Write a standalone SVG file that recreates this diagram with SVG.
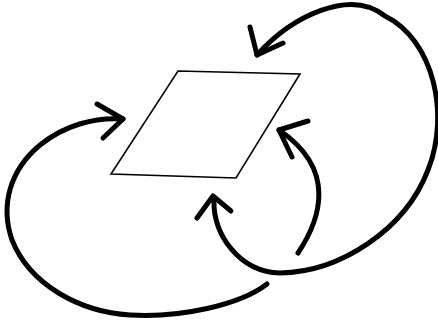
<svg xmlns="http://www.w3.org/2000/svg" width="438" height="324" viewBox="0 0 438 324">
<style>
.arr{fill:none;stroke:#000;stroke-width:5;stroke-linecap:round;stroke-linejoin:round}
.shape{fill:#fff;stroke:#000;stroke-width:1.6;stroke-linejoin:miter}
</style>
<rect width="438" height="324" fill="#fff"/>
<g id="plane">
<polygon class="shape" points="178,71 300,74 236,178 111,174"/>
</g>
<g id="connectors">
<path class="arr" d="M267,284 C240,305 180,318 130,315 C80,312 30,285 12,240 C0,205 10,170 40,145 C65,125 95,117 123,119"/>
<path class="arr" d="M97,104 L123,119 L103,138"/>
<path class="arr" d="M214,197 C212,235 240,272 280,273 C340,272 405,230 428,170 C450,115 434,40 385,16 C350,-12 292,16 257,55"/>
<path class="arr" d="M197,218 L213,196 L231,211"/>
<path class="arr" d="M250,27 L257,55 L283,43"/>
<path class="arr" d="M298,253 C320,220 338,170 279,130"/>
<path class="arr" d="M308,121 L279,130 L292,157"/>
</g>
</svg>
